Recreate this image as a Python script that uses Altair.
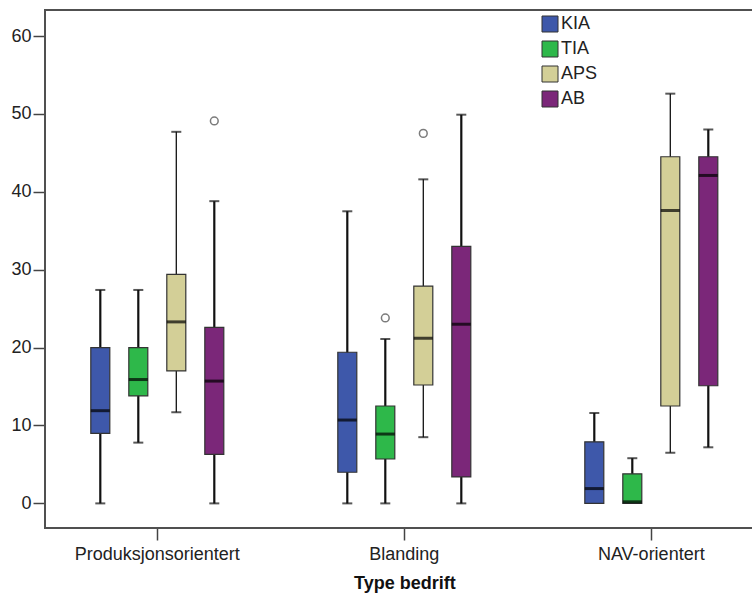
import altair as alt
import pandas as pd

# Box-plot summaries per company type and measure
groups = ["Produksjonsorientert", "Blanding", "NAV-orientert"]
series = ["KIA", "TIA", "APS", "AB"]
colors = ["#3E58AA", "#2EB84A", "#D3CF97", "#7B2779"]

# order: for each group, KIA, TIA, APS, AB
lower = [0.0, 7.8, 11.7, 0.0,
         0.0, 0.0, 8.5, 0.0,
         0.0, 0.0, 6.5, 7.2]
q1 = [9.0, 13.8, 17.0, 6.3,
      4.0, 5.7, 15.2, 3.4,
      0.0, 0.0, 12.5, 15.1]
median = [11.9, 15.9, 23.3, 15.7,
          10.7, 8.9, 21.2, 23.0,
          1.9, 0.2, 37.6, 42.1]
q3 = [20.0, 20.0, 29.4, 22.6,
      19.4, 12.5, 27.9, 33.0,
      7.9, 3.8, 44.5, 44.5]
upper = [27.4, 27.4, 47.7, 38.8,
         37.5, 21.1, 41.6, 49.9,
         11.6, 5.8, 52.6, 48.0]

outlier_group = ["Produksjonsorientert", "Blanding", "Blanding"]
outlier_series = ["AB", "TIA", "APS"]
outlier_value = [49.1, 23.8, 47.5]

rows = []
i = 0
for g in groups:
    for s in series:
        rows.append(dict(group=g, series=s, lower=lower[i], q1=q1[i],
                         median=median[i], q3=q3[i], upper=upper[i]))
        i += 1
stats = pd.DataFrame(rows)
outliers = pd.DataFrame(dict(group=outlier_group, series=outlier_series,
                             value=outlier_value))

FONT_SIZE = 18
W, H = 707, 518
FRAME = "#505050"

y_scale = alt.Scale(domain=[-3.16, 63.34], nice=False, zero=False)

x_enc = alt.X(
    "group:N",
    sort=groups,
    scale=alt.Scale(type="band", range=[-11.2, 729.8],
                    paddingInner=0, paddingOuter=0),
    axis=alt.Axis(title="Type bedrift", labelAngle=0, bandPosition=0.5,
                  tickSize=12, tickColor="#444444", tickWidth=1.5,
                  labelPadding=5, labelFontSize=FONT_SIZE,
                  labelColor="#222222",
                  titleFontSize=FONT_SIZE, titleFontWeight="bold",
                  titleColor="#111111", titlePadding=11,
                  domain=False, grid=False),
)
# four boxes per group, 38 px apart, each 19 px wide
xoff_enc = alt.XOffset("series:N", sort=series,
                       scale=alt.Scale(range=[57, 190], paddingInner=0.5,
                                       paddingOuter=0))

base = alt.Chart(stats).encode(x=x_enc, xOffset=xoff_enc)

whiskers = base.mark_rule(color="#111111").encode(
    y=alt.Y("lower:Q", scale=y_scale,
            axis=alt.Axis(values=[0, 10, 20, 30, 40, 50, 60], title=None,
                          tickSize=12, tickColor="#444444", tickWidth=1.5,
                          labelPadding=2, labelFontSize=FONT_SIZE,
                          labelColor="#222222", domain=False, grid=False)),
    y2="upper:Q",
    strokeWidth=alt.condition(alt.datum.series == "APS",
                              alt.value(1.3), alt.value(2.2)),
)

upper_caps = base.mark_tick(color="#111111", size=10, thickness=2,
                            orient="horizontal").encode(
    y=alt.Y("upper:Q", scale=y_scale),
)

lower_caps = base.transform_filter(
    alt.datum.lower < alt.datum.q1
).mark_tick(color="#111111", size=10, thickness=2,
            orient="horizontal").encode(
    y=alt.Y("lower:Q", scale=y_scale),
)

boxes = base.mark_bar(stroke="#333333", strokeWidth=1.2).encode(
    y=alt.Y("q1:Q", scale=y_scale),
    y2="q3:Q",
    fill=alt.Fill("series:N", sort=series,
                  scale=alt.Scale(domain=series, range=colors),
                  legend=alt.Legend(title=None, orient="none",
                                    legendX=496, legendY=5,
                                    symbolType="square", symbolSize=256,
                                    symbolStrokeColor="#333333",
                                    symbolStrokeWidth=1,
                                    symbolOpacity=1,
                                    labelFontSize=FONT_SIZE,
                                    labelColor="#222222",
                                    labelOffset=2, rowPadding=5,
                                    padding=0)),
)

medians = base.mark_tick(color="#000000", thickness=3, size=19,
                         orient="horizontal").encode(
    y=alt.Y("median:Q", scale=y_scale),
)

points = alt.Chart(outliers).mark_point(
    shape="circle", filled=False, size=60, stroke="#444444", strokeWidth=1.5
).encode(
    x=alt.X("group:N", sort=groups),
    xOffset=alt.XOffset("series:N", sort=series),
    y=alt.Y("value:Q", scale=y_scale),
)

# plot frame: left, top and bottom edges (the right side runs off the page)
frame_src = alt.Chart(pd.DataFrame({"edge": [0]}))
frame_top = frame_src.mark_rule(color=FRAME, strokeWidth=2).encode(
    x=alt.value(0), x2=alt.value(W), y=alt.value(0))
frame_bottom = frame_src.mark_rule(color=FRAME, strokeWidth=2).encode(
    x=alt.value(0), x2=alt.value(W), y=alt.value(H))
frame_left = frame_src.mark_rule(color=FRAME, strokeWidth=2).encode(
    x=alt.value(0), y=alt.value(-1), y2=alt.value(H + 1))

chart = alt.layer(
    whiskers, upper_caps, lower_caps, boxes, medians, points,
    frame_top, frame_bottom, frame_left
).properties(
    width=W,
    height=H,
    autosize=alt.AutoSizeParams(type="none"),
    padding={"left": 45, "top": 10, "right": 0, "bottom": 69},
    background="white",
).configure_view(
    fill="#F0F0F0", stroke=None
).configure(
    font="Liberation Sans"
)

chart.save("out.html", embed_options={"renderer": "svg", "actions": False})
